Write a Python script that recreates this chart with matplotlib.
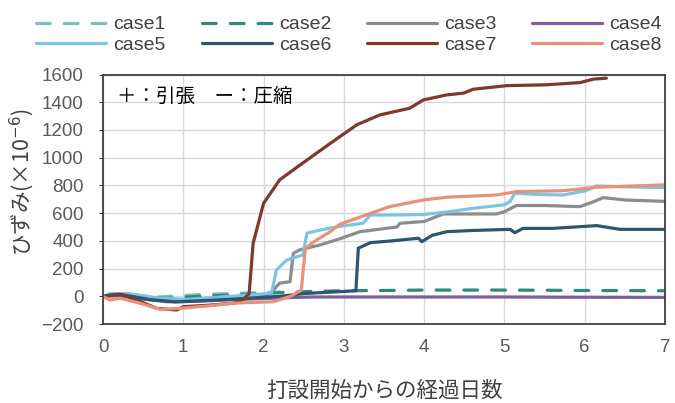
import matplotlib
matplotlib.use("Agg")
import matplotlib.pyplot as plt

# -----------------------------
# DATA
# -----------------------------
case1_x = [0, 0.1, 0.25, 0.5, 0.7, 1.0, 1.3, 1.6, 1.9, 2.2]
case1_y = [0, 20, 20, 0, -5, 5, 15, 20, 25, 30]

case2_x = [0, 0.2, 0.5, 0.8, 1.2, 1.6, 2.0, 2.3, 2.6, 3.0, 3.5, 4.0, 5.0, 6.0, 7.0]
case2_y = [0, 10, -10, -15, 0, 10, 20, 30, 35, 40, 42, 45, 45, 42, 40]

case3_x = [0, 0.2, 0.5, 0.8, 1.0, 1.4, 1.8, 2.05, 2.1, 2.2, 2.33, 2.37, 2.45, 2.7, 2.95,
           3.2, 3.66, 3.7, 4.0, 4.24, 4.5, 4.9, 5.0, 5.15, 5.5, 5.94, 6.1, 6.23, 6.5, 7.0]
case3_y = [0, 15, -20, -40, -35, -20, -5, 10, 30, 95, 105, 310, 335, 370, 415,
           466, 500, 527, 540, 594, 594, 594, 610, 655, 655, 647, 680, 712, 695, 685]

case4_x = [0, 0.2, 0.5, 0.9, 1.2, 1.8, 2.3, 2.6, 3.0, 4.0, 5.0, 6.0, 7.0]
case4_y = [0, 5, -20, -40, -35, -20, -10, -5, -5, -5, -5, -7, -8]

case5_x = [0, 0.1, 0.3, 0.5, 0.7, 1.05, 1.3, 1.6, 1.96, 2.1, 2.16, 2.29, 2.49, 2.54, 2.71,
           2.95, 3.24, 3.33, 3.7, 3.99, 4.3, 4.61, 5.0, 5.07, 5.13, 5.4, 5.73, 6.0, 6.15, 6.5, 7.0]
case5_y = [0, 20, 20, 5, -14, -22, -12, 0, 16, 25, 190, 262, 298, 455, 479,
           505, 527, 587, 587, 590, 610, 635, 660, 683, 744, 735, 731, 760, 796, 790, 784]

case6_x = [0, 0.2, 0.6, 0.9, 1.3, 1.8, 2.2, 2.5, 3.0, 3.15, 3.18, 3.33, 3.6, 3.93, 3.97,
           4.1, 4.28, 4.6, 5.07, 5.13, 5.23, 5.6, 6.15, 6.44, 7.0]
case6_y = [0, 15, -25, -40, -30, -15, 0, 20, 35, 40, 347, 387, 400, 419, 394,
           440, 466, 475, 483, 459, 490, 490, 510, 483, 483]

case7_x = [0, 0.09, 0.25, 0.42, 0.67, 0.92, 1.0, 1.3, 1.62, 1.75, 1.82, 1.87, 2.0, 2.2, 2.37,
           2.66, 2.95, 3.16, 3.45, 3.82, 3.99, 4.28, 4.49, 4.61, 5.03, 5.52, 5.94, 6.11, 6.27]
case7_y = [-2, 9, 9, -27, -87, -99, -75, -65, -50, -22, 20, 383, 671, 840, 912,
           1033, 1152, 1237, 1309, 1357, 1417, 1453, 1466, 1494, 1520, 1526, 1542, 1567, 1574]

case8_x = [0, 0.09, 0.21, 0.46, 0.71, 0.96, 1.3, 1.62, 2.12, 2.33, 2.47, 2.52, 2.66, 2.83,
           2.95, 3.16, 3.57, 3.99, 4.28, 4.9, 5.15, 5.73, 6.15, 7.0]
case8_y = [-2, -27, -14, -50, -94, -87, -70, -50, -39, -2, 45, 347, 406, 466,
           520, 563, 647, 695, 715, 731, 755, 762, 787, 804]

labels = ['case1', 'case2', 'case3', 'case4', 'case5', 'case6', 'case7', 'case8']
colors = ['#7fbcbc', '#2b8a7c', '#8c8c8e', '#7d5f9e', '#7cc4e4', '#2e5670', '#7b3a2e', '#e8917a']
styles = ['--', '--', '-', '-', '-', '-', '-', '-']

xs = [case1_x, case2_x, case3_x, case4_x, case5_x, case6_x, case7_x, case8_x]
ys = [case1_y, case2_y, case3_y, case4_y, case5_y, case6_y, case7_y, case8_y]

# -----------------------------
# FONTS
# -----------------------------
num_font = ['Liberation Sans', 'DejaVu Sans']
jp_font = ['Noto Sans CJK JP', 'DejaVu Sans']
plt.rcParams['font.family'] = jp_font

# -----------------------------
# PLOT
# -----------------------------
fig = plt.figure(figsize=(6.75, 4.03), dpi=100)
ax = fig.add_axes([0.1526, 0.196, 0.8326, 0.619])

handles = []
for x, y, c, ls, lab in zip(xs, ys, colors, styles, labels):
    if ls == '--':
        h, = ax.plot(x, y, color=c, lw=2.3, ls=(0, (4.3, 4.4)),
                     dash_capstyle='round', label=lab)
    else:
        h, = ax.plot(x, y, color=c, lw=2.3, solid_capstyle='round', label=lab)
    handles.append(h)

ax.set_xlim(0, 7)
ax.set_ylim(-200, 1600)
ax.set_xticks(range(0, 8))
yticks = list(range(-200, 1601, 200))
ax.set_yticks(yticks)
ax.grid(color='#d9d9d9', lw=1.0)
ax.set_axisbelow(True)

for s in ax.spines.values():
    s.set_color('#404040')
    s.set_linewidth(1.3)

ax.tick_params(axis='y', length=3, color='#404040', labelcolor='#595959', pad=11)
ax.tick_params(axis='x', length=0, labelcolor='#595959', pad=11)
ax.set_xticklabels([str(v) for v in range(0, 8)], family=num_font, fontsize=13.5)
ax.set_yticklabels(['\u2212200' if v < 0 else str(v) for v in yticks],
                   family=num_font, fontsize=13.5)

ax.set_xlabel('打設開始からの経過日数', fontsize=15.5, color='#404040')
ax.xaxis.set_label_coords(0.5, -0.225)
ax.set_ylabel('ひずみ(×10$^{-6}$)', fontsize=15.5, color='#404040')
ax.yaxis.set_label_coords(-0.12, 0.57)

ax.text(0.025, 0.955, '＋：引張　ー：圧縮', transform=ax.transAxes, fontsize=14,
        va='top', ha='left', color='black')

order = [0, 4, 1, 5, 2, 6, 3, 7]
leg = fig.legend([handles[i] for i in order], [labels[i] for i in order],
                 ncol=4, loc='upper left', bbox_to_anchor=(0.028, 1.004),
                 frameon=False, handlelength=3.6, handletextpad=0.36,
                 columnspacing=1.85, labelspacing=0.15,
                 prop={'family': num_font, 'size': 14})
for t in leg.get_texts():
    t.set_color('#404040')

fig.savefig('out.png', dpi=100)
